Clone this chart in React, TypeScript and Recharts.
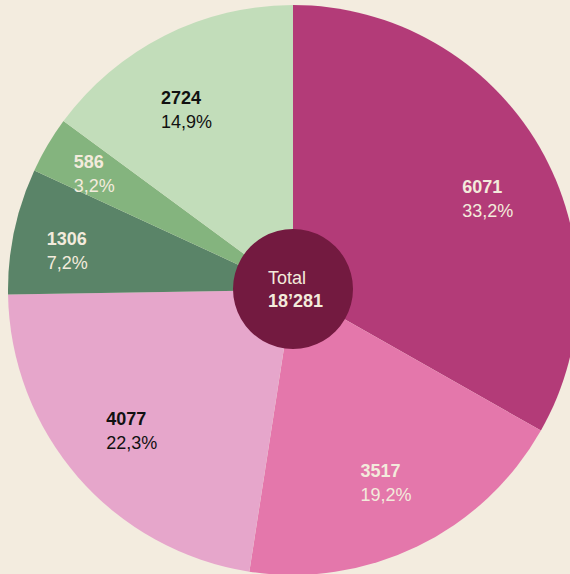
import React from 'react';
import { PieChart, Pie, Cell, Label } from 'recharts';

const names = ['A', 'B', 'C', 'D', 'E', 'F'];
const values = [6071, 3517, 4077, 1306, 586, 2724];
const percentLabels = ['33,2%', '19,2%', '22,3%', '7,2%', '3,2%', '14,9%'];
const totalLabel = 'Total';

// styles
const colors = ['#b33b78', '#e477ab', '#e6a6cb', '#5a8468', '#84b47e', '#c2ddba'];
const textColors = ['#f3ebdc', '#f3ebdc', '#111111', '#f3ebdc', '#f3ebdc', '#111111'];
const labelNudge = [
  [10, 16],
  [0, 0],
  [0, 0],
  [0, 8],
  [0, 0],
  [-10, 10],
];

const BG = '#f3ecdf';
const FONT = '"Liberation Sans", Arial, Helvetica, sans-serif';
const RAD = Math.PI / 180;

const total = values.reduce((a, b) => a + b, 0);
const data = names.map((n, i) => ({ name: n, value: values[i] }));
const fmtTotal = (n: number) => String(n).replace(/\B(?=(\d{3})+(?!\d))/g, '\u2019');

const textW = (s: string) => {
  let w = 0;
  for (const c of s) {
    if (c === ',') w += 5;
    else if (c === '%') w += 16;
    else w += 10;
  }
  return w;
};

const renderLabel = (props: any) => {
  const { cx, cy, midAngle, outerRadius, index } = props;
  const frac = values[index] / total;
  const r = outerRadius * (frac < 0.1 ? 0.81 : 0.75);
  const px = cx + r * Math.cos(-midAngle * RAD) + labelNudge[index][0];
  const py = cy + r * Math.sin(-midAngle * RAD) + labelNudge[index][1];
  const v = String(values[index]);
  const p = percentLabels[index];
  const w = Math.max(textW(v), textW(p));
  const x = px - w / 2;
  return (
    <g>
      <text x={x} y={py - 5} fill={textColors[index]} fontFamily={FONT} fontSize={18} fontWeight="bold" textAnchor="start">
        {v}
      </text>
      <text x={x} y={py + 19} fill={textColors[index]} fontFamily={FONT} fontSize={18} textAnchor="start">
        {p}
      </text>
    </g>
  );
};

const CenterContent = (props: any) => {
  const vb = props.viewBox || {};
  const cx = vb.cx ?? 293;
  const cy = vb.cy ?? 290;
  const x = cx - 25;
  return (
    <g>
      <text x={x} y={cy - 6} fill="#f3ebdc" fontFamily={FONT} fontSize={18} textAnchor="start">
        {totalLabel}
      </text>
      <text x={x} y={cy + 17} fill="#f3ebdc" fontFamily={FONT} fontSize={18} fontWeight="bold" textAnchor="start">
        {fmtTotal(total)}
      </text>
    </g>
  );
};

export default function App() {
  return (
    <div style={{ position: 'absolute', left: 0, top: 0, width: 570, height: 574, background: BG, overflow: 'hidden' }}>
      <PieChart width={570} height={574} margin={{ top: 0, right: 0, bottom: 0, left: 0 }}>
        <Pie
          data={data}
          dataKey="value"
          cx={293}
          cy={290}
          innerRadius={0}
          outerRadius={285}
          startAngle={90}
          endAngle={-270}
          stroke="none"
          isAnimationActive={false}
          label={renderLabel}
          labelLine={false}
        >
          {data.map((d, i) => (
            <Cell key={d.name} fill={colors[i]} />
          ))}
        </Pie>
        <Pie
          data={[{ name: 'total', value: total }]}
          dataKey="value"
          cx={293}
          cy={289}
          innerRadius={0}
          outerRadius={60}
          fill="#731a40"
          stroke="none"
          isAnimationActive={false}
        >
          <Label position="center" content={<CenterContent />} />
        </Pie>
      </PieChart>
    </div>
  );
}
